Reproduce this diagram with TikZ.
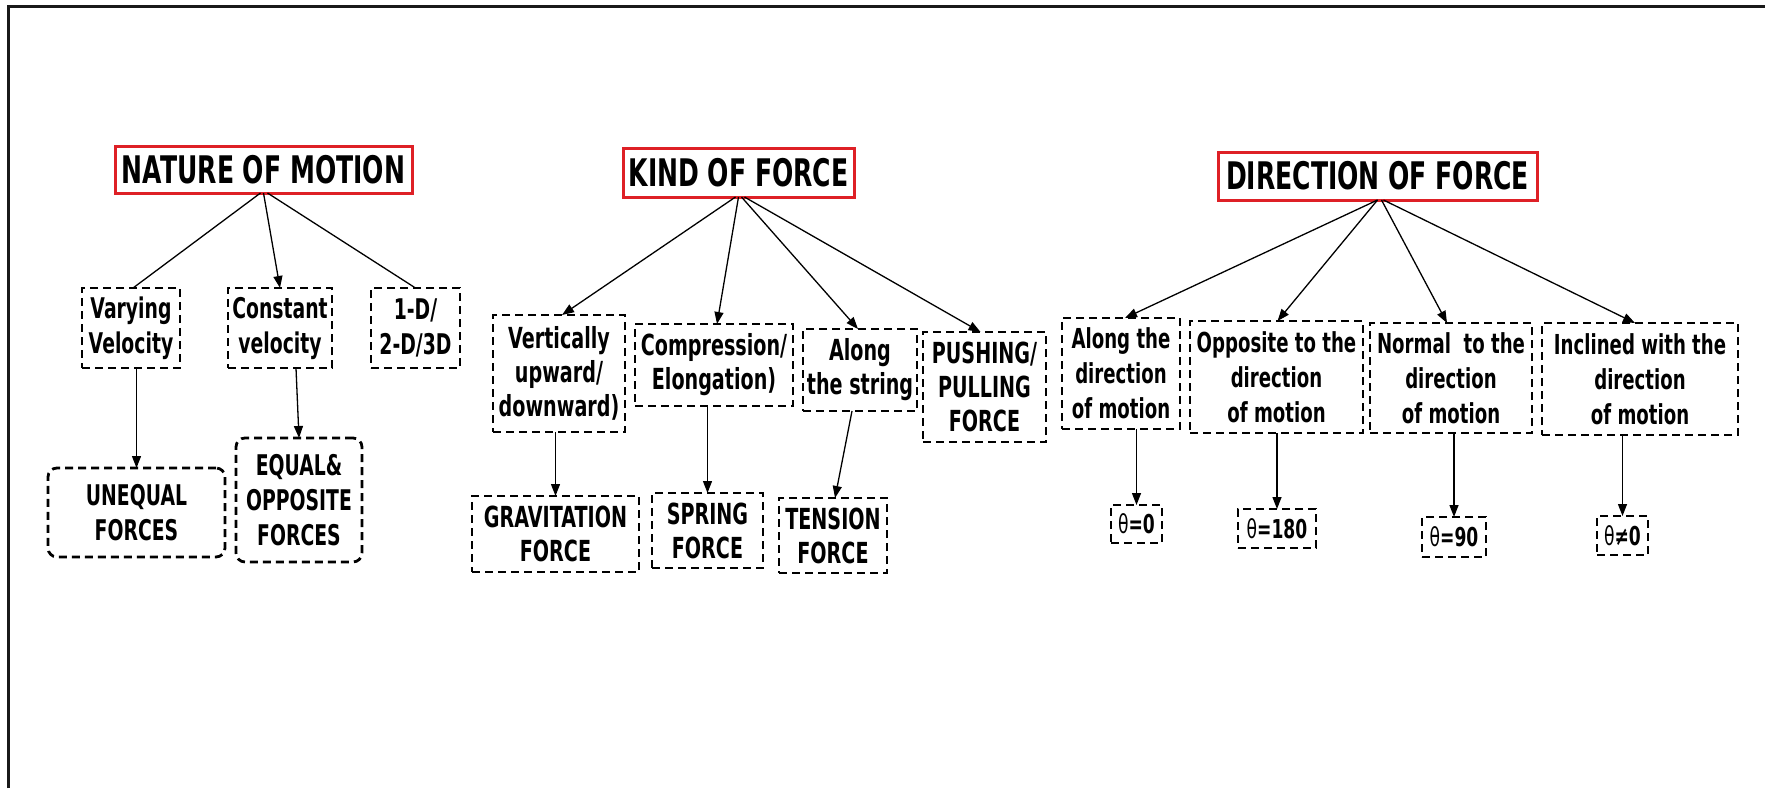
\documentclass[tikz,border=0pt]{standalone}
\usepackage{fontspec}
\newfontfamily\lbl[FakeStretch=0.66]{DejaVu Sans}
\usetikzlibrary{arrows.meta}
\definecolor{titlered}{RGB}{222,32,38}
\definecolor{framegray}{RGB}{25,25,25}
\begin{document}
\begin{tikzpicture}[x=1pt,y=-1pt,
  every node/.style={inner sep=0pt, outer sep=0pt, align=center},
  wh/.style 2 args={minimum width=#1pt, minimum height=#2pt},
  title/.style={draw=titlered, line width=3pt, font=\lbl\bfseries\fontsize{38}{44}\selectfont},
  dbox/.style={draw, line width=2.8pt, dash pattern=on 8pt off 5pt},
  motf/.style={dbox, font=\lbl\bfseries\fontsize{28.5}{35}\selectfont},
  kindf/.style={dbox, font=\lbl\bfseries\fontsize{29}{34}\selectfont},
  dirf/.style={dbox, font=\lbl\bfseries\fontsize{27.5}{35}\selectfont},
  thf/.style={dbox, font=\lbl\bfseries\fontsize{26}{30}\selectfont},
  link/.style={line width=1.3pt},
  arr/.style={link, -{Triangle[length=12pt,width=9pt]}},
]
\useasboundingbox (0,0) rectangle (1765,788);
% frame: top and left edges
\draw[framegray, line width=3pt] (8,788) -- (8,6) -- (1765,6);

% ---- nature of motion ----
\node[title, wh={297}{47}] (nat) at (263.5,169.5) {NATURE OF MOTION};
\node[motf, wh={98}{80}] (vary) at (131,328) {Varying\\Velocity};
\node[motf, wh={104}{80}] (const) at (280,328) {Constant\\velocity};
\node[motf, wh={89}{80}] (dim) at (415.5,328) {1-D/\\2-D/3D};
\node[motf, wh={177}{89}, rounded corners=9pt] (uneq) at (136.5,512.5) {UNEQUAL\\FORCES};
\node[motf, wh={126}{124}, rounded corners=9pt] (equal) at (299,500) {EQUAL\&\\OPPOSITE\\FORCES};

\draw[link] ([xshift=-3pt]nat.south) -- ([xshift=2pt]vary.north);
\draw[arr] (nat.south) -- (const.north);
\draw[link] ([xshift=4pt]nat.south) -- (dim.north);
\draw[arr] (uneq.north |- vary.south) -- (uneq.north);
\draw[arr] ([xshift=-3pt]equal.north |- const.south) -- (equal.north);

% ---- kind of force ----
\node[title, wh={231}{49}] (kind) at (738.5,172.5) {KIND OF FORCE};
\node[kindf, wh={132}{117}] (vert) at (559,373.5) {Vertically\\upward/\\downward)};
\node[kindf, wh={158}{82}] (comp) at (714,365) {Compression/\\Elongation)};
\node[kindf, wh={114}{82}] (str) at (860,370) {Along\\the string};
\node[kindf, wh={123}{110}] (push) at (984.5,387) {PUSHING/\\PULLING\\FORCE};
\node[kindf, wh={167}{76}] (grav) at (555.5,534) {GRAVITATION\\FORCE};
\node[kindf, wh={111}{75}] (spring) at (707.5,530.5) {SPRING\\FORCE};
\node[kindf, wh={108}{75}] (tens) at (833,535.5) {TENSION\\FORCE};

\draw[arr] ([xshift=-3pt]kind.south) -- ([xshift=3pt]vert.north);
\draw[arr] (kind.south) -- ([xshift=3pt]comp.north);
\draw[arr] ([xshift=3pt]kind.south) -- ([xshift=-2pt]str.north);
\draw[arr] ([xshift=6pt]kind.south) -- ([xshift=-4pt]push.north);
\draw[arr] (grav.north |- vert.south) -- (grav.north);
\draw[arr] (spring.north |- comp.south) -- (spring.north);
\draw[arr] ([xshift=-8pt]str.south) -- ([xshift=2pt]tens.north);

% ---- direction of force ----
\node[title, wh={319}{48}] (dir) at (1377.5,176) {DIRECTION OF FORCE};
\node[dirf, wh={118}{111}] (along) at (1121,373.5) {Along the\\direction\\of motion};
\node[dirf, wh={173}{112}] (opp) at (1276.5,377) {Opposite to the\\direction\\of motion};
\node[dirf, wh={162}{110}] (norm) at (1451,378) {Normal\ \ to the\\direction\\of motion};
\node[dirf, wh={196}{112}] (incl) at (1640,379) {Inclined with the\\direction\\of motion};
\node[thf, wh={51}{38}] (t0) at (1136.5,524) {{\mdseries θ}=0};
\node[thf, wh={78}{39}] (t180) at (1277,528.5) {{\mdseries θ}=180};
\node[thf, wh={64}{40}] (t90) at (1454,537) {{\mdseries θ}=90};
\node[thf, wh={51}{39}] (tne) at (1622.5,535.5) {{\mdseries θ}≠0};

\draw[arr] (dir.south) -- ([xshift=4pt]along.north);
\draw[arr] (dir.south) -- ([xshift=1pt]opp.north);
\draw[arr] ([xshift=4pt]dir.south) -- ([xshift=-4pt]norm.north);
\draw[arr] ([xshift=6pt]dir.south) -- ([xshift=-5pt]incl.north);
\draw[arr] (t0.north |- along.south) -- (t0.north);
\draw[arr] (t180.north |- opp.south) -- (t180.north);
\draw[arr] (t90.north |- norm.south) -- (t90.north);
\draw[arr] (tne.north |- incl.south) -- (tne.north);
\end{tikzpicture}
\end{document}
